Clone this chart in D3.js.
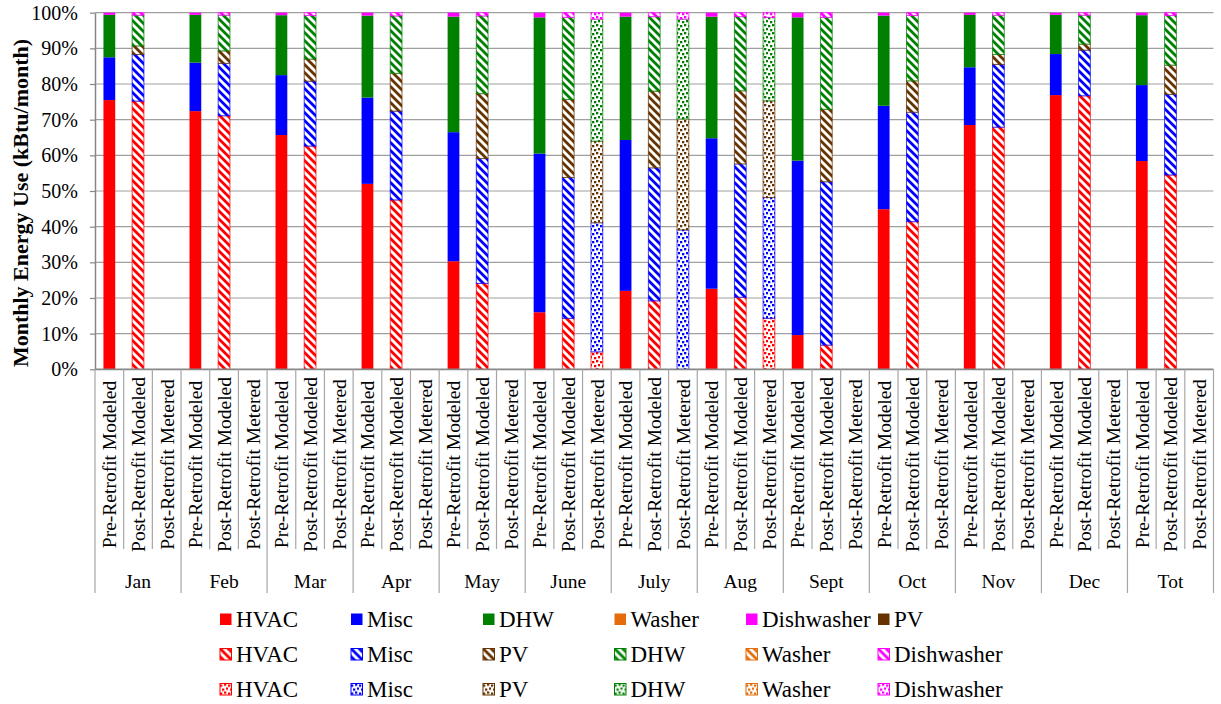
<!DOCTYPE html>
<html><head><meta charset="utf-8">
<script src="https://cdn.jsdelivr.net/npm/d3@7"></script>
<style>
body{margin:0;background:#fff;}
svg{display:block;font-family:"Liberation Serif","Times New Roman",Times,serif;}
svg text{font-family:"Liberation Serif","Times New Roman",Times,serif;}
</style>
</head><body>
<svg id="chart" width="1221" height="704"></svg>
<script>
// ---------- DATA (percent of monthly total) ----------
const months = ["Jan","Feb","Mar","Apr","May","June","July","Aug","Sept","Oct","Nov","Dec","Tot"];
const scenarios = ["Pre-Retrofit Modeled","Post-Retrofit Modeled","Post-Retrofit Metered"];
const seriesKeys = ["HVAC","Misc","PV","DHW","Washer","Dishwasher"];
const yTickValues = [0,0.1,0.2,0.3,0.4,0.5,0.6,0.7,0.8,0.9,1.0];

// Pre-Retrofit Modeled
const preHVAC       = [75.5,72.4,65.7,52.0,30.3,16.0,22.0,22.6, 9.6,44.9,68.5,76.9,58.4];
const preMisc       = [12.0,13.6,16.8,24.2,36.2,44.5,42.3,42.2,48.9,29.0,16.2,11.5,21.3];
const prePV         = [ 0  , 0  , 0  , 0  , 0  , 0  , 0  , 0  , 0  , 0  , 0  , 0  , 0  ];
const preDHW        = [11.9,13.4,16.8,23.0,32.4,38.2,34.6,34.1,40.2,25.3,14.7,11.0,19.6];
const preWasher     = [ 0  , 0  , 0  , 0  , 0  , 0  , 0  , 0  , 0  , 0  , 0  , 0  , 0  ];
const preDishwasher = [ 0.6, 0.6, 0.7, 0.8, 1.1, 1.3, 1.1, 1.1, 1.3, 0.8, 0.6, 0.6, 0.7];

// Post-Retrofit Modeled
const postHVAC       = [75.2,71.1,62.6,47.5,24.1,14.3,19.2,20.2, 6.8,41.4,67.9,76.7,54.5];
const postMisc       = [13.1,14.7,18.2,24.9,35.0,39.5,37.3,37.4,45.8,30.7,17.6,12.8,22.6];
const postPV         = [ 2.4, 3.5, 6.2,10.6,18.2,21.9,21.5,20.5,20.3, 8.8, 2.8, 1.7, 8.2];
const postDHW        = [ 8.6,10.0,12.2,16.1,21.8,23.0,20.9,20.8,25.8,18.3,11.0, 8.1,13.9];
const postWasher     = [ 0  , 0  , 0  , 0  , 0  , 0  , 0  , 0  , 0  , 0  , 0  , 0  , 0  ];
const postDishwasher = [ 0.7, 0.7, 0.8, 0.9, 0.9, 1.3, 1.1, 1.1, 1.3, 0.8, 0.7, 0.7, 0.8];

// Post-Retrofit Metered (only June, July, Aug)
const metHVAC       = [0,0,0,0,0, 4.9, 0  ,14.3,0,0,0,0,0];
const metMisc       = [0,0,0,0,0,36.2,39.1,33.9,0,0,0,0,0];
const metPV         = [0,0,0,0,0,22.9,31.1,27.1,0,0,0,0,0];
const metDHW        = [0,0,0,0,0,34.2,28.0,23.4,0,0,0,0,0];
const metWasher     = [0,0,0,0,0, 0  , 0  , 0  ,0,0,0,0,0];
const metDishwasher = [0,0,0,0,0, 1.8, 1.8, 1.3,0,0,0,0,0];

const seriesColors = {HVAC:"#FF0000", Misc:"#0000FF", PV:"#663300", DHW:"#008000", Washer:"#E46C0A", Dishwasher:"#FF00FF"};

const legendRows = [
  {style:"solid",  keys:["HVAC","Misc","DHW","Washer","Dishwasher","PV"]},
  {style:"hatch",  keys:["HVAC","Misc","PV","DHW","Washer","Dishwasher"]},
  {style:"conf",   keys:["HVAC","Misc","PV","DHW","Washer","Dishwasher"]}
];

// ---------- BUILD TABLE ----------
const src = [
  {HVAC:preHVAC, Misc:preMisc, PV:prePV, DHW:preDHW, Washer:preWasher, Dishwasher:preDishwasher},
  {HVAC:postHVAC, Misc:postMisc, PV:postPV, DHW:postDHW, Washer:postWasher, Dishwasher:postDishwasher},
  {HVAC:metHVAC, Misc:metMisc, PV:metPV, DHW:metDHW, Washer:metWasher, Dishwasher:metDishwasher}
];
const rows = [];
months.forEach((m,i)=>{
  scenarios.forEach((s,j)=>{
    const r = {month:m, scenario:s, si:j};
    seriesKeys.forEach(k=> r[k] = src[j][k][i]);
    rows.push(r);
  });
});
const stacked = d3.stack().keys(seriesKeys).offset(d3.stackOffsetExpand)(rows);

// ---------- LAYOUT ----------
const svg = d3.select("#chart");
const plotL = 95, plotR = 1213.5, plotT = 12.7, plotB = 369.3;

const x0 = d3.scaleBand().domain(months).range([plotL, plotR]).padding(0);
const x1 = d3.scaleBand().domain(scenarios).range([0, x0.bandwidth()]).paddingInner(0.59).paddingOuter(0.295);
const y = d3.scaleLinear().domain([0,1]).range([plotB, plotT]);

// patterns
const defs = svg.append("defs");
seriesKeys.forEach(k=>{
  const c = seriesColors[k];
  const h = defs.append("pattern").attr("id","hatch-"+k).attr("patternUnits","userSpaceOnUse")
    .attr("width",8).attr("height",8);
  h.append("rect").attr("width",8).attr("height",8).attr("fill","#fff");
  h.append("path").attr("d","M-2,-2L10,10M-2,6L2,10M6,-2L10,2").attr("stroke",c).attr("stroke-width",2.8);
  const p = defs.append("pattern").attr("id","conf-"+k).attr("patternUnits","userSpaceOnUse")
    .attr("width",8).attr("height",8);
  p.append("rect").attr("width",8).attr("height",8).attr("fill","#fff");
  [[0,1],[4,0],[6,4],[2,5]].forEach(([a,b])=>{
    p.append("rect").attr("x",a).attr("y",b).attr("width",2.3).attr("height",2.3).attr("fill",c);
  });
});
function fillFor(style,k){
  if(style==="solid") return seriesColors[k];
  return `url(#${style}-${k})`;
}
const styleBySi = ["solid","hatch","conf"];

// gridlines
svg.append("g").selectAll("line").data(yTickValues.filter(d=>d>0)).join("line")
  .attr("x1",plotL).attr("x2",plotR).attr("y1",d=>y(d)).attr("y2",d=>y(d))
  .attr("stroke","#A0A0A0").attr("stroke-width",1.2);

// bars
const barG = svg.append("g");
stacked.forEach(layer=>{
  const k = layer.key;
  barG.append("g").selectAll("rect")
    .data(layer.filter(d=>d[1]-d[0] > 0))
    .join("rect")
    .attr("x", d=> x0(d.data.month) + x1(d.data.scenario))
    .attr("width", x1.bandwidth())
    .attr("y", d=> y(d[1]))
    .attr("height", d=> y(d[0]) - y(d[1]))
    .attr("fill", d=> fillFor(styleBySi[d.data.si], k))
    .attr("stroke", d=> d.data.si===0 ? "none" : seriesColors[k])
    .attr("stroke-opacity", 0.75)
    .attr("stroke-width", 1);
});

// y axis
const yAxis = d3.axisLeft(y).tickValues(yTickValues).tickFormat(d3.format(".0%"))
  .tickSize(5).tickSizeOuter(0).tickPadding(12);
const ya = svg.append("g").attr("transform",`translate(${plotL},0)`).call(yAxis);
ya.attr("font-family",null);
ya.select(".domain").attr("stroke","#868686").attr("stroke-width",1.5);
ya.selectAll(".tick line").attr("stroke","#868686").attr("stroke-width",1.2);
ya.selectAll(".tick text").attr("font-size",20).attr("fill","#000");

// x axis (multi-level)
const xa = svg.append("g");
xa.append("line").attr("x1",plotL).attr("x2",plotR).attr("y1",plotB).attr("y2",plotB)
  .attr("stroke","#868686").attr("stroke-width",1.8);
// group separators
const groupEdges = months.map(m=>x0(m)).concat([plotR]);
xa.selectAll(".gsep").data(groupEdges).join("line").attr("class","gsep")
  .attr("x1",d=>d).attr("x2",d=>d).attr("y1",plotB).attr("y2",593)
  .attr("stroke","#A6A6A6").attr("stroke-width",1.2);
// category separators inside group
const catEdges = [];
months.forEach(m=>{ scenarios.slice(1).forEach(s=>{ catEdges.push(x0(m) + x1(s) - (x1.step()-x1.bandwidth())/2); }); });
xa.selectAll(".csep").data(catEdges).join("line").attr("class","csep")
  .attr("x1",d=>d).attr("x2",d=>d).attr("y1",plotB).attr("y2",549)
  .attr("stroke","#A6A6A6").attr("stroke-width",1.2);
// category labels
const catLabels = [];
months.forEach(m=>scenarios.forEach(s=>catLabels.push({m,s})));
xa.selectAll(".clab").data(catLabels).join("text").attr("class","clab")
  .attr("transform",d=>`translate(${x0(d.m)+x1(d.s)+x1.bandwidth()/2},464.5) rotate(-90)`)
  .attr("text-anchor","middle").attr("dy","0.35em")
  .attr("font-size",19.5).text(d=>d.s);
// group labels
xa.selectAll(".glab").data(months).join("text").attr("class","glab")
  .attr("x",d=>x0(d)+x0.bandwidth()/2).attr("y",588)
  .attr("text-anchor","middle").attr("font-size",19.5).text(d=>d);

// y title
svg.append("text").attr("transform","translate(28,203) rotate(-90)")
  .attr("text-anchor","middle").attr("font-weight","bold").attr("font-size",22)
  .text("Monthly Energy Use (kBtu/month)");

// legend
const legX = [220,351,483,614.5,746,878];
const legY = [613.5,648.5,683.5];
legendRows.forEach((row,ri)=>{
  const g = svg.append("g");
  const items = g.selectAll("g").data(row.keys).join("g")
    .attr("transform",(d,i)=>`translate(${legX[i]},${legY[ri]})`);
  items.append("rect").attr("width",11.5).attr("height",11.5)
    .attr("fill",d=>fillFor(row.style,d))
    .attr("stroke",d=> row.style==="solid" ? "none" : seriesColors[d]).attr("stroke-width",1);
  items.append("text").attr("x",16).attr("y",13.4).attr("font-size",23).text(d=>d);
});
</script>
</body></html>
